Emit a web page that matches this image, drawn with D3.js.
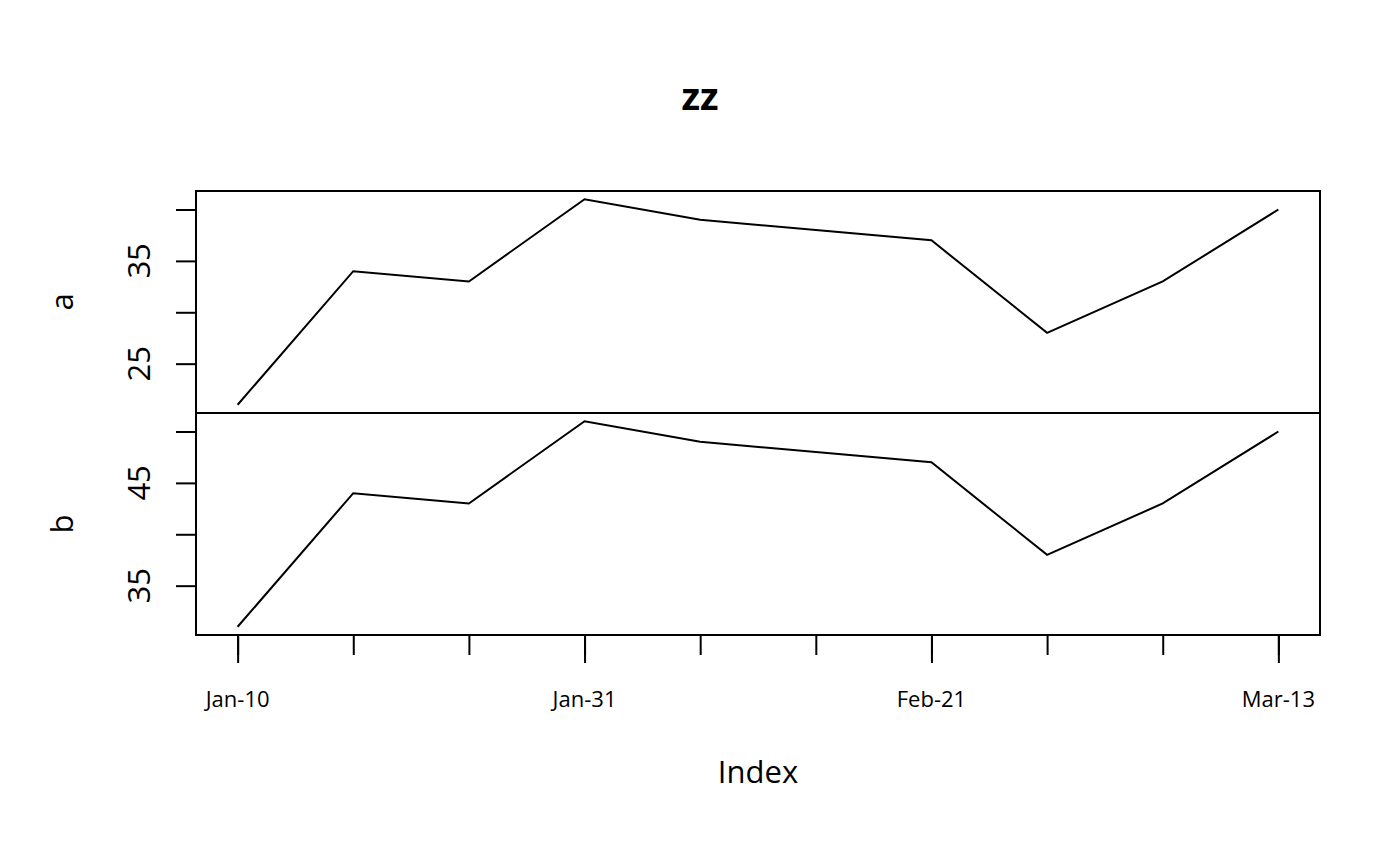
<!DOCTYPE html>
<html><head><meta charset="utf-8">
<script src="https://cdn.jsdelivr.net/npm/d3@7"></script>
<style>body{margin:0;background:#fff}svg{display:block}text{font-family:"Open Sans",sans-serif;fill:#000}</style>
</head><body><svg id="c" width="1400" height="866"></svg>
<script>
const dates = ["2004-01-10","2004-01-17","2004-01-24","2004-01-31","2004-02-07","2004-02-14","2004-02-21","2004-02-28","2004-03-06","2004-03-13"];
const seriesA = [21, 34, 33, 41, 39, 38, 37, 28, 33, 40];
const seriesB = [31, 44, 43, 51, 49, 48, 47, 38, 43, 50];
const ticksA = [25, 30, 35, 40];
const labelsA = [25, 35];
const ticksB = [35, 40, 45, 50];
const labelsB = [35, 45];
const majorDates = ["2004-01-10","2004-01-31","2004-02-21","2004-03-13"];
const title = "zz", xLabel = "Index";
const panels = [{name:"a", values:seriesA, ticks:ticksA, labels:labelsA},
                {name:"b", values:seriesB, ticks:ticksB, labels:labelsB}];

const parse = d3.utcParse("%Y-%m-%d");
const fmt = d3.utcFormat("%b-%d");
const D = dates.map(parse);
const svg = d3.select("#c");
const L = 196, R = 1320, T = 191, B = 635;
const ph = (B - T) / panels.length;

const ext = d3.extent(D);
const span = ext[1] - ext[0];
const x = d3.scaleUtc().domain([new Date(+ext[0] - span*0.04), new Date(+ext[1] + span*0.04)]).range([L, R]);

panels.forEach((p, i) => {
  const top = T + i*ph, bot = top + ph;
  const e = d3.extent(p.values), r = e[1]-e[0];
  const y = d3.scaleLinear().domain([e[0]-r*0.04, e[1]+r*0.04]).range([bot, top]);
  const g = svg.append("g");
  g.append("rect").attr("x", L).attr("y", top).attr("width", R-L).attr("height", ph)
    .attr("fill","none").attr("stroke","#000").attr("stroke-width",2);
  const ax = g.append("g").attr("transform", `translate(${L},0)`)
    .call(d3.axisLeft(y).tickValues(p.ticks).tickSize(20).tickPadding(0).tickFormat(() => ""));
  ax.select(".domain").remove();
  ax.selectAll(".tick line").attr("stroke","#000").attr("stroke-width",2);
  p.labels.forEach(v => {
    g.append("text").attr("transform", `translate(150,${y(v)}) rotate(-90)`)
      .attr("text-anchor","middle").style("font-size","31px").text(v);
  });
  g.append("text").attr("transform", `translate(73,${(top+bot)/2}) rotate(-90)`)
    .attr("text-anchor","middle").style("font-size","31px").text(p.name);
  g.append("path").datum(p.values)
    .attr("fill","none").attr("stroke","#000").attr("stroke-width",2)
    .attr("d", d3.line().x((d,j) => x(D[j])).y(d => y(d)));
});

// x axis: minor ticks every date, major ticks at labeled dates
const minor = svg.append("g").attr("transform", `translate(0,${B})`)
  .call(d3.axisBottom(x).tickValues(D).tickSize(20).tickFormat(() => ""));
minor.select(".domain").remove();
minor.selectAll(".tick line").attr("stroke","#000").attr("stroke-width",2);
const MD = majorDates.map(parse);
const major = svg.append("g").attr("transform", `translate(0,${B})`)
  .call(d3.axisBottom(x).tickValues(MD).tickSize(28).tickFormat(() => ""));
major.select(".domain").remove();
major.selectAll(".tick line").attr("stroke","#000").attr("stroke-width",2);
MD.forEach(d => {
  svg.append("text").attr("x", x(d)).attr("y", 707).attr("text-anchor","middle")
    .style("font-size","22px").text(fmt(d));
});

svg.append("text").attr("x", 700).attr("y", 110).attr("text-anchor","middle")
  .style("font-size","38px").style("font-weight","bold").text(title);
svg.append("text").attr("x", (L+R)/2).attr("y", 783).attr("text-anchor","middle")
  .style("font-size","31px").text(xLabel);
</script></body></html>
